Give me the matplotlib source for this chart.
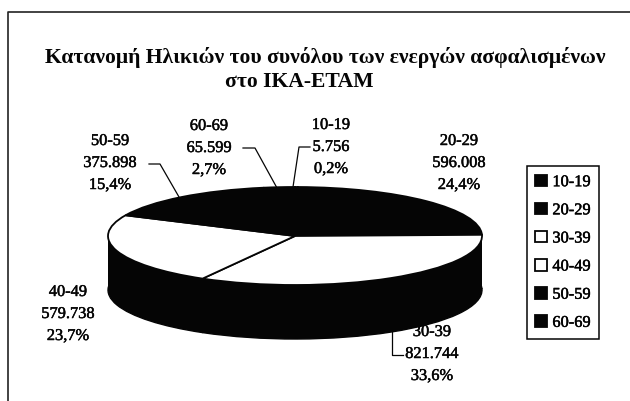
import matplotlib
matplotlib.use("Agg")
import matplotlib.pyplot as plt
import matplotlib.patheffects as pe
from matplotlib.patches import Rectangle

plt.rcParams["font.family"] = ["Liberation Serif", "DejaVu Serif"]

W, H = 630, 402
INK = "#050505"

categories = ["10-19", "20-29", "30-39", "40-49", "50-59", "60-69"]
values = [5756, 596008, 821744, 579738, 375898, 65599]
value_labels = ["5.756", "596.008", "821.744", "579.738", "375.898", "65.599"]
percent_labels = ["0,2%", "24,4%", "33,6%", "23,7%", "15,4%", "2,7%"]
colors = [INK, INK, "white", "white", INK, INK]

title_lines = ["Κατανομή Ηλικιών του συνόλου των ενεργών ασφαλισμένων", "στο ΙΚΑ-ΕΤΑΜ"]

# label centres in pixels, image coords
label_pos = [(331, 148), (459, 164), (432, 355), (68, 315), (110, 164), (209, 149)]
leaders = [
    [(310, 148), (299, 148), (293, 188)],
    [(392, 332), (392, 356), (403, 356)],
    [(149, 165), (160, 165), (179, 198)],
    [(243, 149), (255, 149), (277, 189)],
]

fig = plt.figure(figsize=(W / 100, H / 100), dpi=100, facecolor="white")

# pie squashed by giving it a wide flat axes
cx, cy, rx, ry, depth = 295, 237, 187, 49, 54
pie_ax = fig.add_axes([(cx - rx) / W, 1 - (cy + ry + depth) / H, 2 * rx / W, (2 * ry + depth) / H])
d = depth / ry
pie_ax.pie(values, colors=[INK] * 6, startangle=90, counterclock=False, center=(0, -d),
           wedgeprops={"edgecolor": INK, "linewidth": 1.0})
pie_ax.add_patch(Rectangle((-1, -d), 2, d, color=INK))
wedges, _ = pie_ax.pie(values, colors=colors, startangle=90, counterclock=False,
                       wedgeprops={"edgecolor": INK, "linewidth": 1.3})
pie_ax.set_aspect("auto")
pie_ax.set_xlim(-1.0, 1.0)
pie_ax.set_ylim(-1 - d, 1)
pie_ax.axis("off")
for w in wedges:
    w.set_clip_on(False)

ax = fig.add_axes([0, 0, 1, 1], facecolor="none")
ax.set_xlim(0, W)
ax.set_ylim(H, 0)
ax.axis("off")

# scanned frame: only top and left edges are visible
ax.plot([8, 8, W], [H, 13, 13], color="#222222", lw=1.2)

# thin stroke thickens the type like the scan does
heavy = [pe.withStroke(linewidth=0.35, foreground=INK)]

ax.text(325, 57, title_lines[0], ha="center", va="center", fontsize=15.6, fontweight="bold", color=INK)
ax.text(299, 82, title_lines[1], ha="center", va="center", fontsize=15.6, fontweight="bold", color=INK)

for cat, val, pct, (x, y) in zip(categories, value_labels, percent_labels, label_pos):
    ax.text(x, y, f"{cat}\n{val}\n{pct}", ha="center", va="center", fontsize=11.8,
            linespacing=1.5, color=INK, path_effects=heavy)

for pts in leaders:
    ax.plot([p[0] for p in pts], [p[1] for p in pts], color=INK, lw=0.9)

# legend uses the wedges as handles
leg = ax.legend(wedges, categories, loc="upper left", bbox_to_anchor=(527 / W, 1 - 167 / H),
                bbox_transform=fig.transFigure, fontsize=11.8, frameon=True, fancybox=False,
                edgecolor=INK, framealpha=1, handlelength=0.7, handleheight=0.7,
                handletextpad=0.35, labelspacing=0.74, borderpad=0.5, borderaxespad=0)
leg.get_frame().set_linewidth(1.1)
for t in leg.get_texts():
    t.set_path_effects(heavy)

fig.savefig("out.png", dpi=100, facecolor="white")
plt.close(fig)
